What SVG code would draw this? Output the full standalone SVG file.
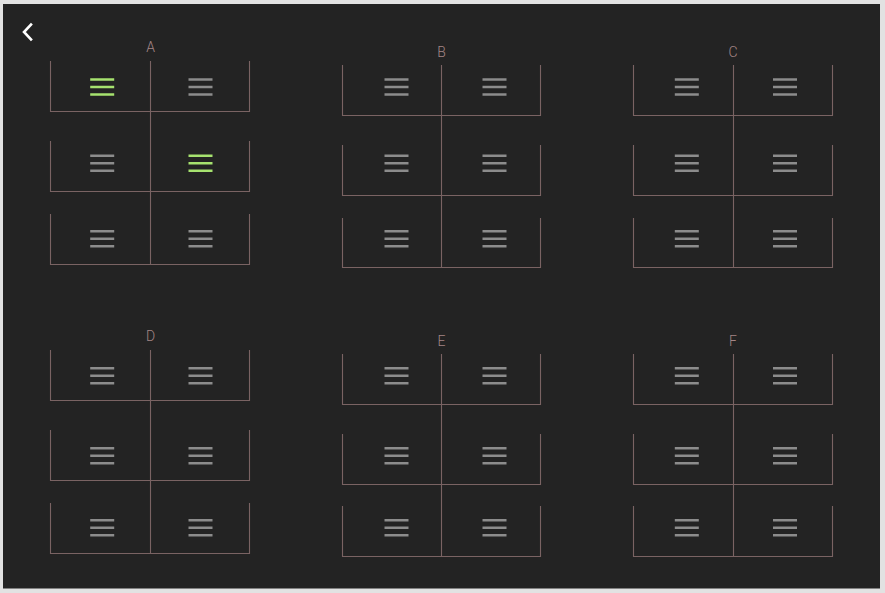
<svg xmlns="http://www.w3.org/2000/svg" xmlns:xlink="http://www.w3.org/1999/xlink" width="885" height="593" viewBox="0 0 885 593">
<style>
.frame{fill:#e2e2e2}
.bg{fill:#232323}
.tree{fill:none;stroke:#7a6363;stroke-width:1.1}
.lbl{font-family:Roboto,"Liberation Sans",sans-serif;font-weight:300;font-size:14px;fill:#a48586;text-anchor:middle}
.ic{color:#8c8c8c}
.on{color:#a6e26f}
.back{fill:none;stroke:#ffffff;stroke-width:2.6;stroke-linecap:square;stroke-linejoin:miter}
</style>
<defs>
<path id="m" d="M-12,-7.5h24M-12,0h24M-12,7.5h24" fill="none" stroke="currentColor" stroke-width="2.4"/>
</defs>
<rect class="frame" x="0" y="0" width="885" height="593"/>
<rect class="bg" x="3" y="4" width="877" height="584.5"/>
<path class="back" d="M31,24.5L24,32L31,39.5"/>

<g id="panel-A">
<text class="lbl" x="150.5" y="52">A</text>
<path class="tree" d="M50.5,61V111.5H249.5V61M50.5,141V191.5H249.5V141M50.5,214V264.5H249.5V214M150.5,61V264.5"/>
<use href="#m" class="on" x="102.2" y="87"/><use href="#m" class="ic" x="200.5" y="87"/>
<use href="#m" class="ic" x="102.2" y="163.3"/><use href="#m" class="on" x="200.5" y="163.3"/>
<use href="#m" class="ic" x="102.2" y="238.8"/><use href="#m" class="ic" x="200.5" y="238.8"/>
</g>

<g id="panel-B">
<text class="lbl" x="441.5" y="56.5">B</text>
<path class="tree" d="M342.5,65V115.5H540.5V65M342.5,145V195.5H540.5V145M342.5,218V267.5H540.5V218M441.5,65V267.5"/>
<use href="#m" class="ic" x="396.5" y="87"/><use href="#m" class="ic" x="494.5" y="87"/>
<use href="#m" class="ic" x="396.5" y="163.3"/><use href="#m" class="ic" x="494.5" y="163.3"/>
<use href="#m" class="ic" x="396.5" y="238.8"/><use href="#m" class="ic" x="494.5" y="238.8"/>
</g>

<g id="panel-C">
<text class="lbl" x="733" y="56.5">C</text>
<path class="tree" d="M633.5,65V115.5H832.5V65M633.5,145V195.5H832.5V145M633.5,218V267.5H832.5V218M733.5,65V267.5"/>
<use href="#m" class="ic" x="686.8" y="87"/><use href="#m" class="ic" x="785" y="87"/>
<use href="#m" class="ic" x="686.8" y="163.3"/><use href="#m" class="ic" x="785" y="163.3"/>
<use href="#m" class="ic" x="686.8" y="238.8"/><use href="#m" class="ic" x="785" y="238.8"/>
</g>

<g id="panel-D">
<text class="lbl" x="150.5" y="340.5">D</text>
<path class="tree" d="M50.5,350V400.5H249.5V350M50.5,430V480.5H249.5V430M50.5,503V553.5H249.5V503M150.5,350V553.5"/>
<use href="#m" class="ic" x="102.2" y="375.8"/><use href="#m" class="ic" x="200.5" y="375.8"/>
<use href="#m" class="ic" x="102.2" y="455.7"/><use href="#m" class="ic" x="200.5" y="455.7"/>
<use href="#m" class="ic" x="102.2" y="527.7"/><use href="#m" class="ic" x="200.5" y="527.7"/>
</g>

<g id="panel-E">
<text class="lbl" x="441.5" y="345.5">E</text>
<path class="tree" d="M342.5,354V404.5H540.5V354M342.5,434V484.5H540.5V434M342.5,506V556.5H540.5V506M441.5,354V556.5"/>
<use href="#m" class="ic" x="396.5" y="375.8"/><use href="#m" class="ic" x="494.5" y="375.8"/>
<use href="#m" class="ic" x="396.5" y="455.7"/><use href="#m" class="ic" x="494.5" y="455.7"/>
<use href="#m" class="ic" x="396.5" y="527.7"/><use href="#m" class="ic" x="494.5" y="527.7"/>
</g>

<g id="panel-F">
<text class="lbl" x="733" y="345.5">F</text>
<path class="tree" d="M633.5,354V404.5H832.5V354M633.5,434V484.5H832.5V434M633.5,506V556.5H832.5V506M733.5,354V556.5"/>
<use href="#m" class="ic" x="686.8" y="375.8"/><use href="#m" class="ic" x="785" y="375.8"/>
<use href="#m" class="ic" x="686.8" y="455.7"/><use href="#m" class="ic" x="785" y="455.7"/>
<use href="#m" class="ic" x="686.8" y="527.7"/><use href="#m" class="ic" x="785" y="527.7"/>
</g>
</svg>
